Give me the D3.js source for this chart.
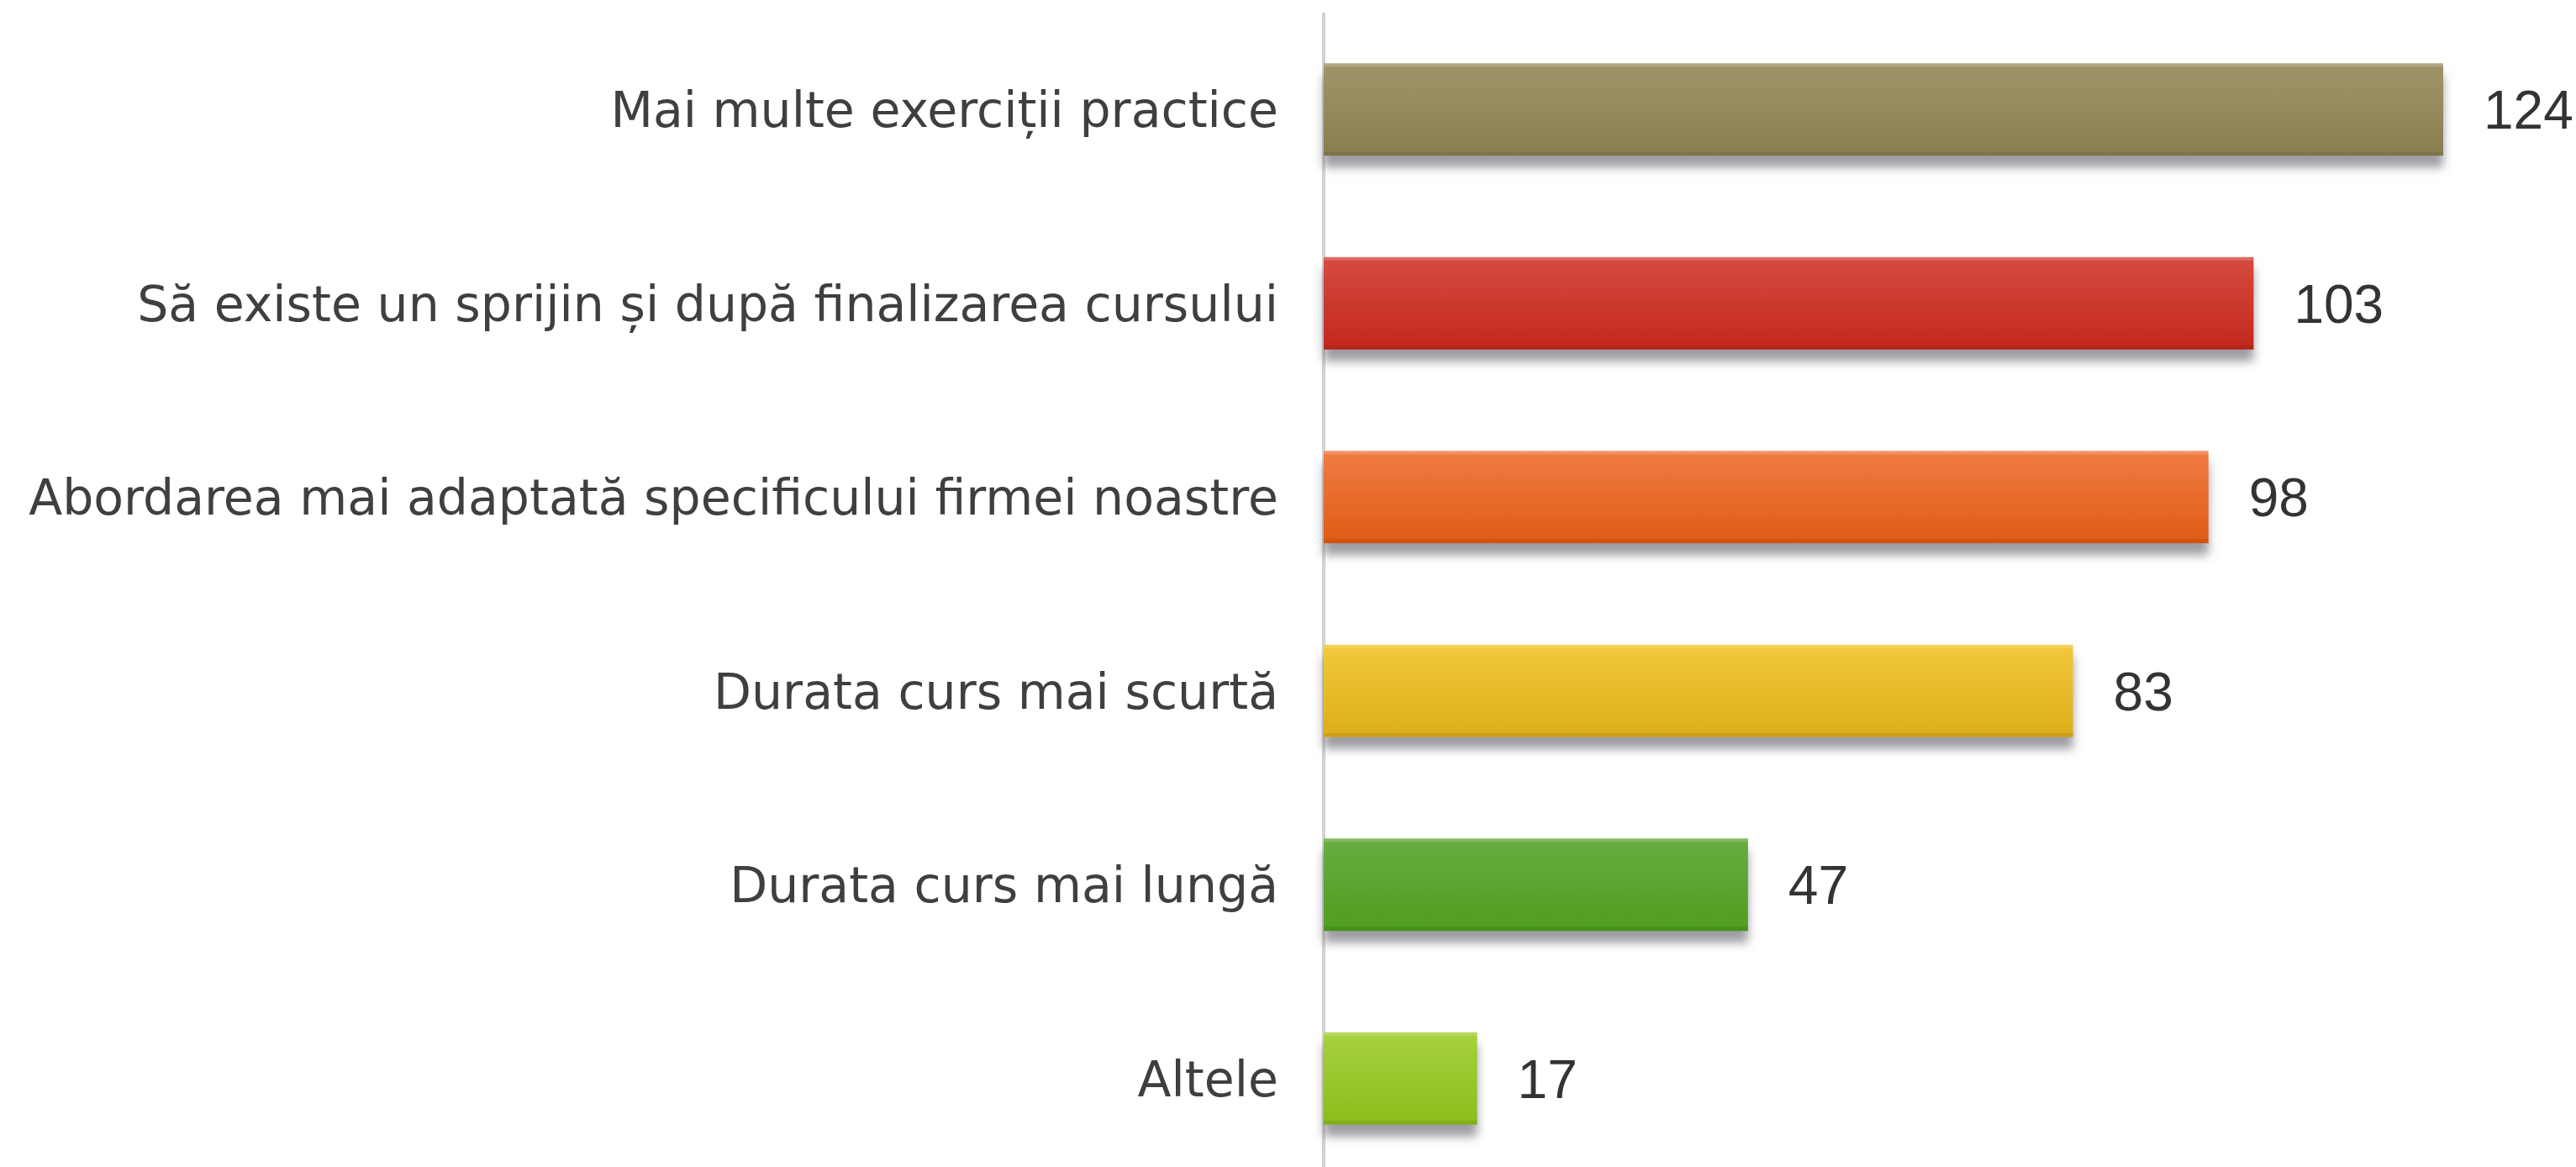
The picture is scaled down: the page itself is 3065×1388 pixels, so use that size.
<!DOCTYPE html>
<html>
<head>
<meta charset="utf-8">
<script src="https://cdn.jsdelivr.net/npm/d3@7"></script>
<style>
  html, body { margin: 0; padding: 0; background: #ffffff; }
  svg { display: block; }
</style>
</head>
<body>
<script>
// Survey answers: what would improve the course
const categories = [
  "Mai multe exerciții practice",
  "Să existe un sprijin și după finalizarea cursului",
  "Abordarea mai adaptată specificului firmei noastre",
  "Durata curs mai scurtă",
  "Durata curs mai lungă",
  "Altele"
];
const values = [124, 103, 98, 83, 47, 17];
// top / bottom gradient stops for each bar
const topColors    = ["#a0946a", "#d64b3f", "#f07b44", "#f1c93c", "#69ad42", "#a6d13e"];
const bottomColors = ["#897e4e", "#c2281c", "#df5c14", "#dbae1a", "#4f9d1e", "#8bbd1c"];

const W = 3065, H = 1388;
const axisX = 1575, plotRight = 2907;

const svg = d3.select("body").append("svg")
  .attr("width", W).attr("height", H);

const x = d3.scaleLinear()
  .domain([0, d3.max(values)])
  .range([axisX, plotRight]);

const y = d3.scaleBand()
  .domain(categories)
  .range([15, 1398])
  .paddingInner(0.523)
  .paddingOuter(0.2615);

const data = categories.map((c, i) => ({ c, v: values[i], i }));

const defs = svg.append("defs");

// soft shadow under each bar
const shadow = defs.append("filter")
  .attr("id", "barShadow")
  .attr("x", "-5%").attr("y", "-20%")
  .attr("width", "110%").attr("height", "170%");
shadow.append("feDropShadow")
  .attr("dx", 0).attr("dy", 14)
  .attr("stdDeviation", 6)
  .attr("flood-color", "#5a5a66")
  .attr("flood-opacity", 0.6);

const grads = defs.selectAll("linearGradient")
  .data(data)
  .join("linearGradient")
  .attr("id", d => "grad" + d.i)
  .attr("x1", 0).attr("y1", 0).attr("x2", 0).attr("y2", 1);
grads.append("stop").attr("offset", "0%").attr("stop-color", d => topColors[d.i]);
grads.append("stop").attr("offset", "100%").attr("stop-color", d => bottomColors[d.i]);

// vertical axis line
svg.append("line")
  .attr("x1", axisX).attr("x2", axisX)
  .attr("y1", y.range()[0]).attr("y2", y.range()[1])
  .attr("stroke", "#d2d2d2")
  .attr("stroke-width", 4);

const bars = svg.append("g").selectAll("g")
  .data(data)
  .join("g");

bars.append("rect")
  .attr("x", x(0))
  .attr("y", d => y(d.c))
  .attr("width", d => x(d.v) - x(0))
  .attr("height", y.bandwidth())
  .attr("fill", d => `url(#grad${d.i})`)
  .attr("filter", "url(#barShadow)");

// light highlight along the top edge
bars.append("rect")
  .attr("x", x(0))
  .attr("y", d => y(d.c))
  .attr("width", d => x(d.v) - x(0))
  .attr("height", 4)
  .attr("fill", "#ffffff")
  .attr("opacity", 0.18);

// darker rim along the bottom edge
bars.append("rect")
  .attr("x", x(0))
  .attr("y", d => y(d.c) + y.bandwidth() - 5)
  .attr("width", d => x(d.v) - x(0))
  .attr("height", 5)
  .attr("fill", "#000000")
  .attr("opacity", 0.08);

// category labels
svg.append("g").selectAll("text")
  .data(data)
  .join("text")
  .attr("x", axisX - 54)
  .attr("y", d => y(d.c) + y.bandwidth() / 2 + 21)
  .attr("text-anchor", "end")
  .attr("font-family", "'DejaVu Sans', sans-serif")
  .attr("font-size", 58.5)
  .attr("fill", "#3f3f3f")
  .text(d => d.c);

// value labels
svg.append("g").selectAll("text")
  .data(data)
  .join("text")
  .attr("x", d => x(d.v) + 48)
  .attr("y", d => y(d.c) + y.bandwidth() / 2 + 23)
  .attr("text-anchor", "start")
  .attr("font-family", "'Liberation Sans', Arial, sans-serif")
  .attr("font-size", 64)
  .attr("fill", "#333333")
  .text(d => d.v);
</script>
</body>
</html>
